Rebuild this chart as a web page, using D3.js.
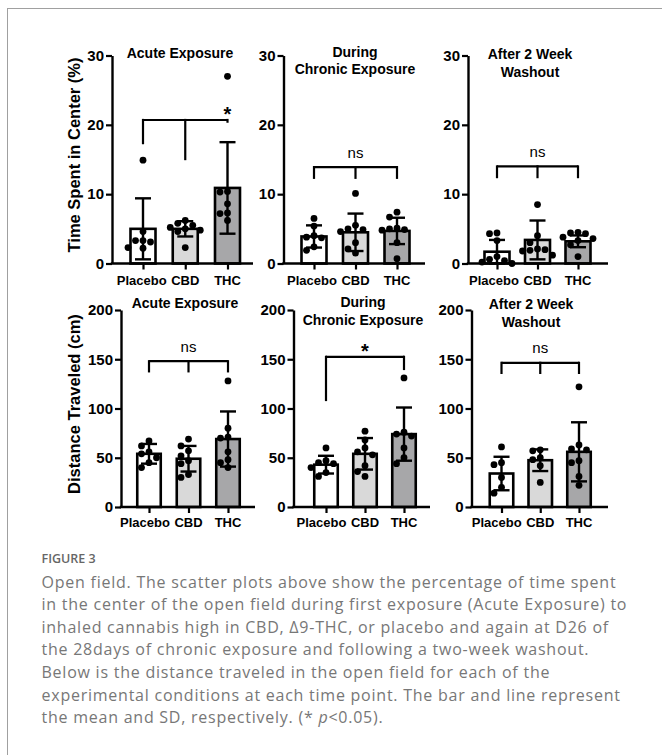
<!DOCTYPE html>
<html><head><meta charset="utf-8">
<script src="https://cdn.jsdelivr.net/npm/d3@7"></script>
<style>body{margin:0;background:#fff}</style>
</head><body>
<svg id="c" width="662" height="755"></svg>
<script>
// ---------- DATA ----------
const groups = ["Placebo", "CBD", "THC"];
const timeTicks = [0, 10, 20, 30];
const distTicks = [0, 50, 100, 150, 200];
const panelTitles = [["Acute Exposure"], ["During", "Chronic Exposure"], ["After 2 Week", "Washout"]];
const yLabels = ["Time Spent in Center (%)", "Distance Traveled (cm)"];

const timeAcuteMean = [5.0, 5.0, 10.9];
const timeAcuteSD = [4.4, 1.1, 6.6];
const timeAcutePts = [[14.9, 4.6, 3.3, 3.3, 3.1, 2.3, 2.2], [6.2, 5.8, 5.5, 5.2, 5.0, 4.8, 4.6, 2.3], [27.0, 10.4, 10.3, 8.6, 7.3, 7.2, 6.2]];

const timeChronicMean = [3.9, 4.5, 4.7];
const timeChronicSD = [1.6, 2.7, 1.9];
const timeChronicPts = [[6.5, 5.4, 4.0, 3.8, 3.7, 2.4, 1.9], [10.1, 5.5, 5.0, 4.9, 4.6, 3.0, 2.1, 1.5], [7.4, 6.7, 5.1, 5.0, 4.9, 4.8, 3.0, 0.7]];

const timeWashMean = [1.7, 3.4, 3.2];
const timeWashSD = [1.7, 2.8, 0.85];
const timeWashPts = [[4.4, 4.3, 3.3, 1.0, 0.6, 0.4, 0.2, 0.0], [8.5, 4.0, 3.0, 2.1, 2.0, 1.9, 1.8, 1.2], [4.5, 4.4, 4.3, 3.8, 3.6, 3.3, 2.7, 1.0]];

const distAcuteMean = [54, 49, 69];
const distAcuteSD = [10, 13, 28];
const distAcutePts = [[67, 62, 56, 54, 50, 45, 40], [69, 62, 57, 52, 47, 44, 33, 30], [128, 80, 71, 70, 56, 48, 45, 40]];

const distChronicMean = [43, 54, 74];
const distChronicSD = [9, 16, 27];
const distChronicPts = [[60, 47, 45, 44, 40, 35, 31], [77, 68, 60, 56, 53, 42, 36, 31], [131, 76, 74, 72, 60, 50, 44]];

const distWashMean = [34, 47.5, 56];
const distWashSD = [17, 11, 30];
const distWashPts = [[61, 45, 43, 30, 20, 14], [58, 57, 50, 48, 42, 25], [122, 63, 59, 58, 47, 45, 31, 22]];

// significance brackets: bracket level, leg bottoms per group (null = none), label, label group (-1 = middle)
const sigTime = [
  {y: 20.7, legs: [17.2, 14.9, 20.3], label: "*", at: 2},
  {y: 13.9, legs: [12.2, 12.2, 12.2], label: "ns", at: 1},
  {y: 14.0, legs: [12.3, 12.3, 12.3], label: "ns", at: 1}
];
const sigDist = [
  {y: 148, legs: [136.6, 136.6, 136.6], label: "ns", at: 1},
  {y: 152.5, legs: [107.5, null, 139], label: "*", at: -1},
  {y: 146.4, legs: [135, 135, 135], label: "ns", at: 1}
];

const captionHead = "FIGURE 3";
const captionLines = [
  "Open field. The scatter plots above show the percentage of time spent",
  "in the center of the open field during first exposure (Acute Exposure) to",
  "inhaled cannabis high in CBD, \u03949-THC, or placebo and again at D26 of",
  "the 28days of chronic exposure and following a two-week washout.",
  "Below is the distance traveled in the open field for each of the",
  "experimental conditions at each time point. The bar and line represent",
  "the mean and SD, respectively. (* <i>p</i>&lt;0.05)."
];

// ---------- LAYOUT ----------
const fills = ["#ffffff", "#d9d9d9", "#a7a7a9"];
const svg = d3.select("#c").style("font-family", "'Liberation Sans', Arial, sans-serif");

svg.append("rect").attr("x", 7.5).attr("y", 8.5).attr("width", 720).attr("height", 800)
  .attr("fill", "none").attr("stroke", "#a0a0a0").attr("stroke-width", 1);

const rows = [
  {ticks: timeTicks, max: 30, y0: 263.5, y1: 55.5, label: yLabels[0], labelX: 74, labelY: 155,
   axisX: [112, 283.5, 468], axisEnd: [253, 425, 608],
   centers: [[143, 186, 227.5], [314, 354.5, 397], [497, 537, 578]], barW: 25,
   titleY: [[58], [57, 74], [59, 77]], titleX: [180, 355, 530], xlabY: 285,
   means: [timeAcuteMean, timeChronicMean, timeWashMean], sds: [timeAcuteSD, timeChronicSD, timeWashSD],
   pts: [timeAcutePts, timeChronicPts, timeWashPts], sig: sigTime},
  {ticks: distTicks, max: 200, y0: 507, y1: 310, label: yLabels[1], labelX: 74, labelY: 404,
   axisX: [121, 293.5, 471.5], axisEnd: [255, 430, 608],
   centers: [[149, 189, 228], [326, 364, 404], [501.5, 540.5, 579]], barW: 23.5,
   titleY: [[308], [307, 325], [309, 327]], titleX: [185, 363, 531], xlabY: 527,
   means: [distAcuteMean, distChronicMean, distWashMean], sds: [distAcuteSD, distChronicSD, distWashSD],
   pts: [distAcutePts, distChronicPts, distWashPts], sig: sigDist}
];

function swarm(vals, y, cx) {
  const r = 3.3, placed = [], out = [];
  const offs = [0, -7.5, 7.5, -15, 15, -22, 22];
  vals.forEach(v => {
    const py = y(v);
    let ox = 0;
    for (const o of offs) {
      if (placed.every(p => Math.hypot(p[0] - o, p[1] - py) >= 2 * r + 0.4)) { ox = o; break; }
    }
    placed.push([ox, py]);
    out.push([cx + ox, py]);
  });
  return out;
}

rows.forEach((row, ri) => {
  const y = d3.scaleLinear().domain([0, row.max]).range([row.y0, row.y1]);
  // y label
  svg.append("text").attr("transform", `translate(${row.labelX},${row.labelY}) rotate(-90)`)
    .attr("text-anchor", "middle").attr("dominant-baseline", "central")
    .attr("font-weight", "bold").attr("font-size", 16.5).text(row.label);

  for (let pi = 0; pi < 3; pi++) {
    const g = svg.append("g");
    const c = row.centers[pi];
    const x = d3.scalePoint().domain(groups).range([c[0], c[2]]);
    const ax = row.axisX[pi];

    // bars
    groups.forEach((gr, gi) => {
      g.append("rect").attr("x", x(gr) - row.barW / 2).attr("y", y(row.means[pi][gi]))
        .attr("width", row.barW).attr("height", y(0) - y(row.means[pi][gi]))
        .attr("fill", fills[gi]).attr("stroke", "#000").attr("stroke-width", 2.6);
    });
    // dots
    groups.forEach((gr, gi) => {
      swarm(row.pts[pi][gi], y, x(gr)).forEach(p => {
        g.append("circle").attr("cx", p[0]).attr("cy", p[1]).attr("r", 3.4).attr("fill", "#000");
      });
    });
    // error bars
    groups.forEach((gr, gi) => {
      const m = row.means[pi][gi], s = row.sds[pi][gi];
      const lo = Math.max(0, m - s), hi = m + s, cx = x(gr);
      g.append("line").attr("x1", cx).attr("x2", cx).attr("y1", y(lo)).attr("y2", y(hi))
        .attr("stroke", "#000").attr("stroke-width", 2.4);
      [hi, m - s].forEach(v => {
        if (v < 0) return;
        g.append("line").attr("x1", cx - 8).attr("x2", cx + 8).attr("y1", y(v)).attr("y2", y(v))
          .attr("stroke", "#000").attr("stroke-width", 2.4);
      });
    });

    // y axis
    const yAxis = g.append("g").attr("transform", `translate(${ax},0)`)
      .call(d3.axisLeft(y).tickValues(row.ticks).tickSize(6).tickSizeOuter(0).tickPadding(2));
    yAxis.attr("font-family", null);
    yAxis.select(".domain").attr("stroke-width", 2.4);
    yAxis.selectAll(".tick line").attr("stroke-width", 2.2);
    yAxis.selectAll(".tick text").attr("font-size", 15).attr("font-weight", "bold").attr("fill", "#000");

    // x axis
    const xAxis = g.append("g").attr("transform", `translate(0,${row.y0})`)
      .call(d3.axisBottom(x).tickSize(6).tickPadding(2));
    xAxis.select(".domain").remove();
    xAxis.selectAll(".tick line").attr("stroke-width", 2.2);
    xAxis.selectAll(".tick text").remove();
    const labs = groups.map(gr => g.append("text").attr("x", x(gr)).attr("y", row.xlabY).attr("text-anchor", "middle")
        .attr("font-size", 13).attr("font-weight", "bold").text(gr));
    // keep a small gap between neighbouring labels (shift the first one left if needed)
    const w0 = labs[0].node().getComputedTextLength(), w1 = labs[1].node().getComputedTextLength();
    const overlap = (x(groups[0]) + w0 / 2) - (x(groups[1]) - w1 / 2) + 4.5;
    if (overlap > 0) labs[0].attr("x", x(groups[0]) - overlap);
    g.append("line").attr("x1", ax - 1.2).attr("x2", row.axisEnd[pi]).attr("y1", row.y0).attr("y2", row.y0)
      .attr("stroke", "#000").attr("stroke-width", 2.4);

    // title
    panelTitles[pi].forEach((t, ti) => {
      g.append("text").attr("x", row.titleX[pi]).attr("y", row.titleY[pi][ti]).attr("text-anchor", "middle")
        .attr("font-size", 14).attr("font-weight", "bold").text(t);
    });

    // significance bracket
    const s = row.sig[pi];
    const by = y(s.y);
    const legIdx = s.legs.map((l, i) => l === null ? null : i).filter(i => i !== null);
    const xs = legIdx.map(i => x(groups[i]));
    g.append("line").attr("x1", d3.min(xs)).attr("x2", d3.max(xs)).attr("y1", by).attr("y2", by)
      .attr("stroke", "#000").attr("stroke-width", 2.2);
    s.legs.forEach((l, i) => {
      if (l === null) return;
      g.append("line").attr("x1", x(groups[i])).attr("x2", x(groups[i])).attr("y1", by - 1.1).attr("y2", y(l))
        .attr("stroke", "#000").attr("stroke-width", 2.2);
    });
    const lx = s.at === -1 ? (d3.min(xs) + d3.max(xs)) / 2 : x(groups[s.at]);
    if (s.label === "*") {
      g.append("text").attr("x", lx).attr("y", by + 1).attr("text-anchor", "middle")
        .attr("font-size", 20).attr("font-weight", "bold").text("*");
    } else {
      g.append("text").attr("x", lx).attr("y", by - 9.5).attr("text-anchor", "middle")
        .attr("font-size", 15).text("ns");
    }
  }
});

// caption
svg.append("text").attr("x", 41.5).attr("y", 563).style("font-family", "'Open Sans', sans-serif")
  .attr("font-size", 12.5).attr("font-weight", 600).attr("fill", "#666").text(captionHead);
const cap = svg.append("g").style("font-family", "'Open Sans', sans-serif").attr("font-size", 16)
  .attr("fill", "#777").attr("letter-spacing", 0.76);
captionLines.forEach((l, i) => {
  cap.append("text").attr("x", 41.5).attr("y", 587.5 + i * 22.6).html(l.replace("<i>", '<tspan font-style="italic">').replace("</i>", "</tspan>"));
});
</script>
</body></html>
